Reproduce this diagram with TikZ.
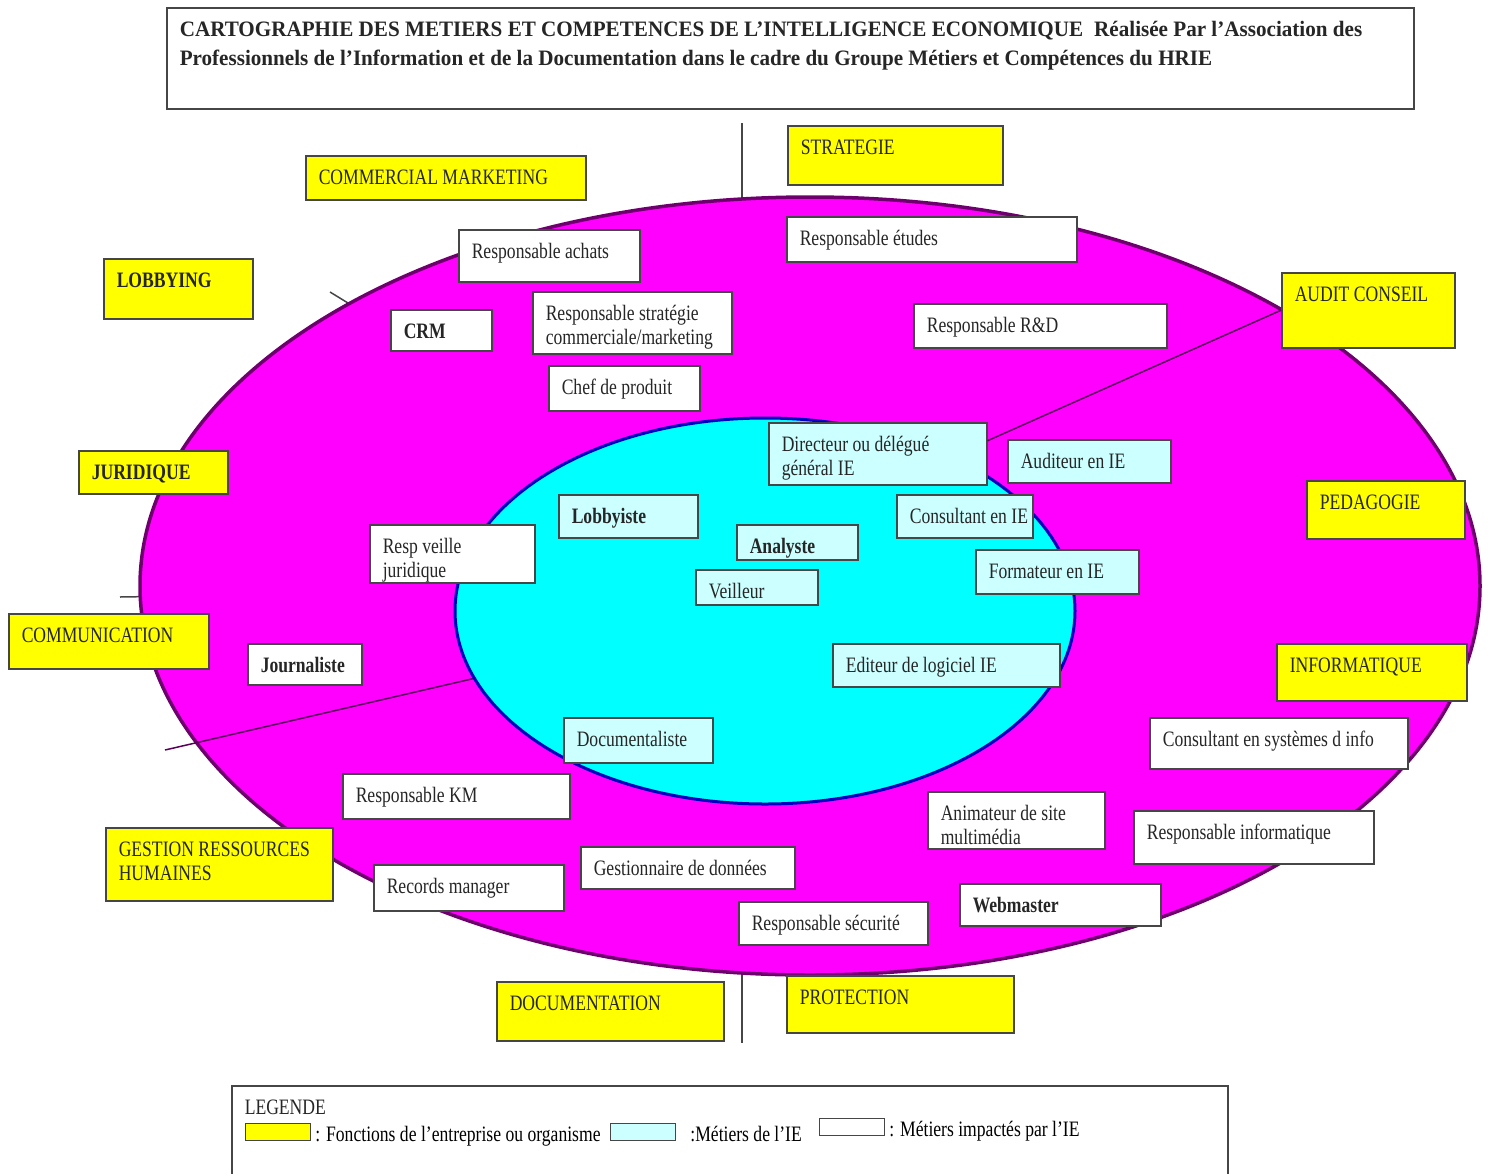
\documentclass[tikz,border=0pt]{standalone}
\usepackage{fontspec}
\setmainfont{Liberation Serif}[FakeStretch=0.8]
\newfontfamily\titrefont{Liberation Serif}[FakeStretch=0.96]
\usetikzlibrary{positioning}

\definecolor{rose}{RGB}{255,0,255}
\definecolor{bordrose}{RGB}{110,0,110}
\definecolor{turquoise}{RGB}{0,255,255}
\definecolor{bordbleu}{RGB}{0,0,190}
\definecolor{cyanpale}{RGB}{204,255,255}
\definecolor{jaune}{RGB}{255,255,0}
\definecolor{gristrait}{RGB}{70,70,70}
\definecolor{traitrose}{RGB}{90,0,90}

\tikzset{
  boite/.style={draw=gristrait, line width=1.5pt, anchor=north west, align=flush left,
    inner xsep=13pt, inner ysep=0pt, text height=29pt, text=black!85},
  fonction/.style={boite, fill=jaune},
  metier/.style={boite, fill=cyanpale},
  impact/.style={boite, fill=white},
  dim/.style 2 args={text width=#1pt, text depth=#2pt},
  trait/.style={draw=gristrait, line width=1.5pt},
  echantillon/.style={draw=gristrait, line width=1.2pt, inner sep=0pt,
    minimum width=65pt, minimum height=17pt, anchor=north west}
}

\begin{document}
\begin{tikzpicture}[x=1pt, y=-1pt, every node/.style={font=\fontsize{22}{24}\selectfont}]
\useasboundingbox (0,0) rectangle (1488,1173);
\clip (0,0) rectangle (1488,1173);

% titre
\node[impact, dim={1221}{72}, font=\fontsize{22}{29}\selectfont\titrefont\bfseries] (titre) at (166,7)
  {CARTOGRAPHIE DES METIERS ET COMPETENCES DE L’INTELLIGENCE ECONOMIQUE\enspace Réalisée Par l’Association des\\
   Professionnels de l’Information et de la Documentation dans le cadre du Groupe Métiers et Compétences du HRIE};

% axes derriere les ellipses
\coordinate (centre) at (810,586);
\coordinate (haut) at (742,123);
\coordinate (bas) at (742,1043);
\coordinate (nordouest) at (330,292);
\coordinate (ouest) at (120,597);
\draw[trait] (haut) -- (bas);
\draw[trait] (centre) -- (nordouest);
\draw[trait] (centre) -- (ouest);

% ellipses
\draw[fill=rose, draw=bordrose, line width=3.5pt] (centre) ellipse [x radius=670pt, y radius=389pt];
\coordinate (sudouest) at (165,750);
\coordinate (centreie) at (765,611);
\draw[trait, draw=traitrose] (sudouest) -- (centreie);
\draw[fill=turquoise, draw=bordbleu, line width=3pt] (centreie) ellipse [x radius=310pt, y radius=193pt];

% fonctions de l'entreprise
\node[fonction, dim={189}{30}] (strategie) at (787,125) {STRATEGIE};
\node[fonction, dim={254}{15}] (commercial) at (305,155) {COMMERCIAL MARKETING};
\node[fonction, dim={123}{31}] (lobbying) at (103,258) {\textbf{LOBBYING}};
\node[fonction, dim={147}{46}] (audit) at (1281,272) {AUDIT CONSEIL};
\node[fonction, dim={123}{14}] (juridique) at (78,450) {\textbf{JURIDIQUE}};
\node[fonction, dim={132}{29}] (pedagogie) at (1306,480) {PEDAGOGIE};
\node[fonction, dim={174}{26}] (communication) at (8,613) {COMMUNICATION};
\node[fonction, dim={164}{28}] (informatique) at (1276,643) {INFORMATIQUE};
\node[fonction, dim={201}{44}] (grh) at (105,827) {GESTION RESSOURCES\\HUMAINES};
\node[fonction, dim={201}{30}] (documentation) at (496,981) {DOCUMENTATION};
\node[fonction, dim={201}{28}] (protection) at (786,975) {PROTECTION};

% metiers impactes
\node[impact, dim={155}{23}] (achats) at (458,229) {Responsable achats};
\node[impact, dim={264}{16}] (etudes) at (786,216) {Responsable études};
\node[impact, dim={75}{12}] (crm) at (390,309) {\textbf{CRM}};
\node[impact, dim={173}{33}] (stratcom) at (532,291) {Responsable stratégie\\commerciale/marketing};
\node[impact, dim={227}{15}] (rd) at (913,303) {Responsable R\&D};
\node[impact, dim={125}{16}] (chef) at (548,365) {Chef de produit};
\node[impact, dim={139}{29}] (veillejur) at (369,524) {Resp veille\\juridique};
\node[impact, dim={88}{12}] (journaliste) at (247,643) {\textbf{Journaliste}};
\node[impact, dim={232}{22}] (consultsi) at (1149,717) {Consultant en systèmes d info};
\node[impact, dim={201}{16}] (km) at (342,773) {Responsable KM};
\node[impact, dim={151}{28}] (animateur) at (927,791) {Animateur de site\\multimédia};
\node[impact, dim={214}{24}] (respinfo) at (1133,810) {Responsable informatique};
\node[impact, dim={188}{13}] (donnees) at (580,846) {Gestionnaire de données};
\node[impact, dim={164}{17}] (records) at (373,864) {Records manager};
\node[impact, dim={175}{13}] (webmaster) at (959,883) {\textbf{Webmaster}};
\node[impact, dim={163}{14}] (securite) at (738,901) {Responsable sécurité};

% metiers de l'IE
\node[metier, dim={192}{33}] (directeur) at (768,422) {Directeur ou délégué\\général IE};
\node[metier, dim={137}{14}] (auditeur) at (1007,439) {Auditeur en IE};
\node[metier, dim={113}{14}] (lobbyiste) at (558,494) {\textbf{Lobbyiste}};
\node[metier, dim={110}{14}] (consultie) at (896,494) {\mbox{Consultant en IE}};
\node[metier, dim={95}{6}] (analyste) at (736,524) {\textbf{Analyste}};
\node[metier, dim={96}{6}] (veilleur) at (695,569) {Veilleur};
\node[metier, dim={137}{15}] (formateur) at (975,549) {Formateur en IE};
\node[metier, dim={201}{14}] (editeur) at (832,643) {Editeur de logiciel IE};
\node[metier, dim={123}{16}] (documentaliste) at (563,717) {Documentaliste};

\draw[trait, draw=traitrose] (audit.west) -- ([yshift=13pt]directeur.east);

% legende
\node[impact, dim={970}{81}] (legende) at (231,1085) {LEGENDE};
\node[echantillon, fill=jaune] (ljaune) at (245,1123) {};
\node[right=4pt of ljaune.south east, anchor=base west, inner sep=0pt] (ltexte1) {: Fonctions de l’entreprise ou organisme};
\node[echantillon, fill=cyanpale] (lcyan) at (610,1123) {};
\node[right=14pt of lcyan.south east, anchor=base west, inner sep=0pt] (ltexte2) {:Métiers de l’IE};
\node[echantillon, fill=white] (lblanc) at (819,1118) {};
\node[right=4pt of lblanc.south east, anchor=base west, inner sep=0pt] (ltexte3) {: Métiers impactés par l’IE};
\end{tikzpicture}
\end{document}
